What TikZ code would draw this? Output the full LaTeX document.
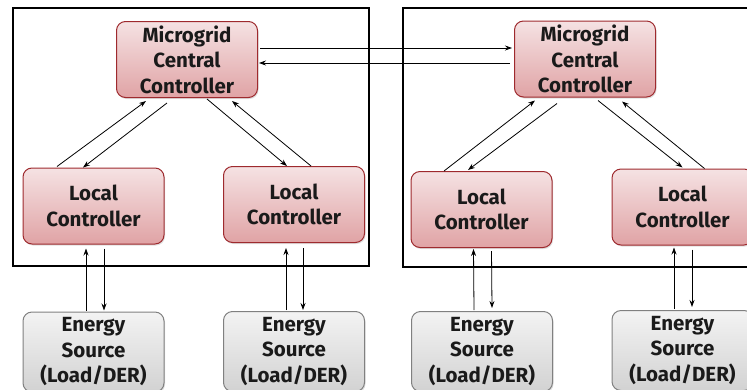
\documentclass[tikz,border=0pt]{standalone}
\usepackage{fontspec}
\setmainfont{Fira Sans}
\usetikzlibrary{calc,shadows,arrows.meta}
\definecolor{redtop}{HTML}{F5E2E3}
\definecolor{redbot}{HTML}{E0A3A5}
\definecolor{redline}{HTML}{9E2A2E}
\definecolor{greytop}{HTML}{F3F3F3}
\definecolor{greybot}{HTML}{D2D2D2}
\definecolor{greyline}{HTML}{808080}
\definecolor{txt}{HTML}{1A1A1A}
\tikzset{
  basebox/.style={rounded corners=9pt, line width=1pt, minimum width=141pt,
    minimum height=76pt, inner sep=1pt, align=center, text=txt,
    font=\fontsize{20.5}{25.5}\selectfont\bfseries,
    drop shadow={shadow xshift=1pt, shadow yshift=-1.5pt, opacity=0.25}},
  ctrlbox/.style={basebox, draw=redline, top color=redtop, bottom color=redbot},
  srcbox/.style={basebox, minimum height=80pt, draw=greyline, top color=greytop, bottom color=greybot},
  frame/.style={draw=black, line width=2pt},
  arr/.style={-{Stealth[length=7pt,width=5pt]}, line width=0.8pt, draw=black}
}
\begin{document}
\begin{tikzpicture}[x=1pt,y=-1pt]
\useasboundingbox (0,0) rectangle (747,389);
\clip (0,0) rectangle (747,389);
% frames
\draw[frame] (13,8) rectangle (369,266);
\draw[frame] (403,8) rectangle (760,267);
% central controllers
\node[ctrlbox] (mcc1) at (187,59.5) {Microgrid\\Central\\Controller};
\node[ctrlbox] (mcc2) at (585,59) {Microgrid\\Central\\Controller};
% local controllers
\node[ctrlbox] (lc1) at (93.5,206) {Local\\Controller};
\node[ctrlbox] (lc2) at (294,204.5) {Local\\Controller};
\node[ctrlbox] (lc3) at (481.5,209.5) {Local\\Controller};
\node[ctrlbox] (lc4) at (682.5,207) {Local\\Controller};
% energy sources
\node[srcbox] (es1) at (93.5,352) {Energy\\Source\\(Load/DER)};
\node[srcbox] (es2) at (294,351.5) {Energy\\Source\\(Load/DER)};
\node[srcbox] (es3) at (482,351.5) {Energy\\Source\\(Load/DER)};
\node[srcbox] (es4) at (682.5,350.5) {Energy\\Source\\(Load/DER)};
% inter-microgrid links
\draw[arr] ($(mcc1.east)+(2,-11.5)$) -- ($(mcc2.west)+(-2,-11)$);
\draw[arr] ($(mcc2.west)+(-4,4)$) -- ($(mcc1.east)+(1,3.5)$);
% left group diagonals
\draw[arr] ($(lc1.north)+(-36.5,-1)$) -- ($(mcc1.south)+(-41,3)$);
\draw[arr] ($(mcc1.south)+(-20,5)$) -- ($(lc1.north)+(-10.5,0)$);
\draw[arr] ($(mcc1.south)+(20,1)$) -- ($(lc2.north)+(-7,0)$);
\draw[arr] ($(lc2.north)+(17,0)$) -- ($(mcc1.south)+(45,3)$);
% right group diagonals
\draw[arr] ($(lc3.north)+(-37.5,0)$) -- ($(mcc2.south)+(-50,3)$);
\draw[arr] ($(mcc2.south)+(-28,6)$) -- ($(lc3.north)+(-13.5,-1)$);
\draw[arr] ($(mcc2.south)+(13,3)$) -- ($(lc4.north)+(0,-1)$);
\draw[arr] ($(lc4.north)+(22,0)$) -- ($(mcc2.south)+(37,4)$);
% vertical links
\draw[arr] ($(es1.north)+(-7.5,-1)$) -- ($(lc1.south)+(-7.5,4)$);
\draw[arr] ($(lc1.south)+(10.5,4)$) -- ($(es1.north)+(10.5,-1)$);
\draw[arr] ($(es2.north)+(-8,-1)$) -- ($(lc2.south)+(-8,5)$);
\draw[arr] ($(lc2.south)+(9,5)$) -- ($(es2.north)+(9,-1)$);
\draw[arr] ($(es3.north)+(-8,-1)$) -- ($(lc3.south)+(-8,1)$);
\draw[arr] ($(lc3.south)+(10,3)$) -- ($(es3.north)+(10,-3)$);
\draw[arr] ($(es4.north)+(-8.5,-1)$) -- ($(lc4.south)+(-8.5,2)$);
\draw[arr] ($(lc4.south)+(9.5,4)$) -- ($(es4.north)+(9.5,-3)$);
\end{tikzpicture}
\end{document}
